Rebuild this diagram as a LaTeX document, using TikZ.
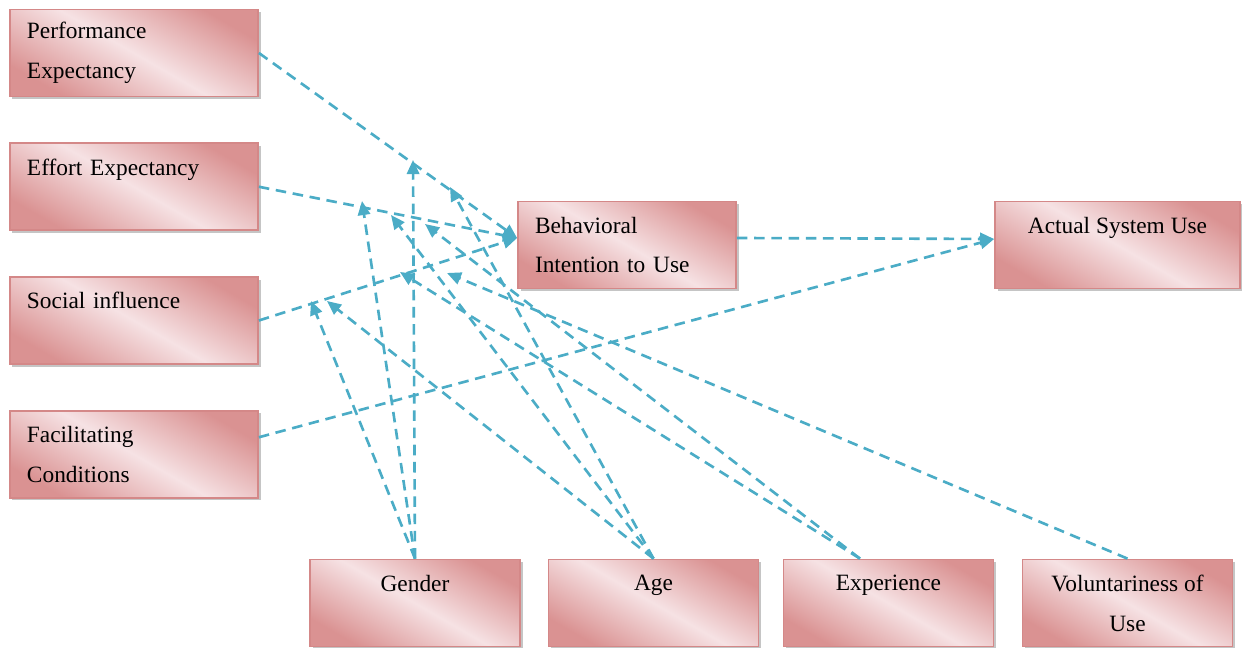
\documentclass[tikz,border=0pt]{standalone}
\usepackage{fontspec}
\setmainfont{Liberation Serif}
\usetikzlibrary{arrows.meta,positioning,shadows}

\definecolor{rosedark}{RGB}{218,146,146}
\definecolor{roselight}{RGB}{246,226,228}
\definecolor{roseline}{RGB}{212,136,136}
\definecolor{aqua}{RGB}{75,172,198}

\begin{document}
\begin{tikzpicture}[auto,node distance=0.9cm,semithick]
	  \tikzstyle{box}=[rectangle,draw=roseline,line width=1pt,top color=rosedark,bottom color=rosedark,middle color=roselight,shading angle=-30,drop shadow={shadow xshift=0.05cm,shadow yshift=-0.05cm,fill=black!45,opacity=0.5},minimum height=1.74cm,inner xsep=0.34cm,font=\fontsize{13.3}{22.7}\selectfont,text=black]
	  \tikzstyle{factor}=[box,text width=4.28cm,align=left]
	  \tikzstyle{moderator}=[box,minimum width=4.2cm,align=center]
	  \tikzstyle{link}=[draw=aqua,line width=1.5pt,dash pattern=on 6pt off 3.8pt,-{Triangle[length=8pt,width=7pt]}]

	  \useasboundingbox (0,0) rectangle (24.84,12.96);

	  % predictors
	  \node[factor] (PE) at (2.68,11.90) {Performance\\Expectancy};
	  \node[factor] (EE) [below=of PE] {Effort Expectancy\\ \mbox{}};
	  \node[factor] (SI) [below=of EE] {Social influence\\ \mbox{}};
	  \node[factor] (FC) [below=of SI] {Facilitating\\Conditions};

	  \node[factor,text width=3.68cm] (BI) at (12.54,8.06) {Behavioral\\Intention to Use};
	  \node[moderator,minimum width=4.9cm] (ASU) at (22.35,8.06) {Actual System Use\\ \mbox{}};

	  % moderators
	  \node[moderator] (G) at (8.30,0.90) {Gender\\ \mbox{}};
	  \node[moderator] (A) at (13.07,0.90) {Age\\ \mbox{}};
	  \node[moderator] (X) at (17.77,0.90) {Experience\\ \mbox{}};
	  \node[moderator] (V) at (22.55,0.90) {Voluntariness of\\Use};

	  \coordinate (BIin) at ([yshift=0.14cm]BI.west);
	  \coordinate (BIout) at ([yshift=0.14cm]BI.east);
	  \coordinate (ASUin) at ([yshift=0.12cm]ASU.west);
	  \coordinate (FCout) at ([yshift=0.34cm]FC.east);
	  \coordinate (Xtop) at ([xshift=-0.57cm]X.north);

	  \coordinate (GPE) at (8.26,9.76);
	  \coordinate (GEE) at (7.24,8.94);
	  \coordinate (GSI) at (6.22,6.94);
	  \coordinate (APE) at (9.00,9.22);
	  \coordinate (AEE) at (7.82,8.66);
	  \coordinate (ASI) at (6.54,6.94);
	  \coordinate (XEE) at (8.50,8.48);
	  \coordinate (XSI) at (8.00,7.52);
	  \coordinate (VSI) at (8.94,7.50);

	  \path (PE.east) edge[link] (BIin)
	  (EE.east) edge[link] (BIin)
	  (SI.east) edge[link] (BIin)
	  (FCout) edge[link] (ASUin)
	  (BIout) edge[link] (ASUin);

	  \path (G.north) edge[link] (GPE) edge[link] (GEE) edge[link] (GSI)
	  (A.north) edge[link] (APE) edge[link] (AEE) edge[link] (ASI)
	  (Xtop) edge[link] (XEE) edge[link] (XSI)
	  (V.north) edge[link] (VSI);
	\end{tikzpicture}
\end{document}
